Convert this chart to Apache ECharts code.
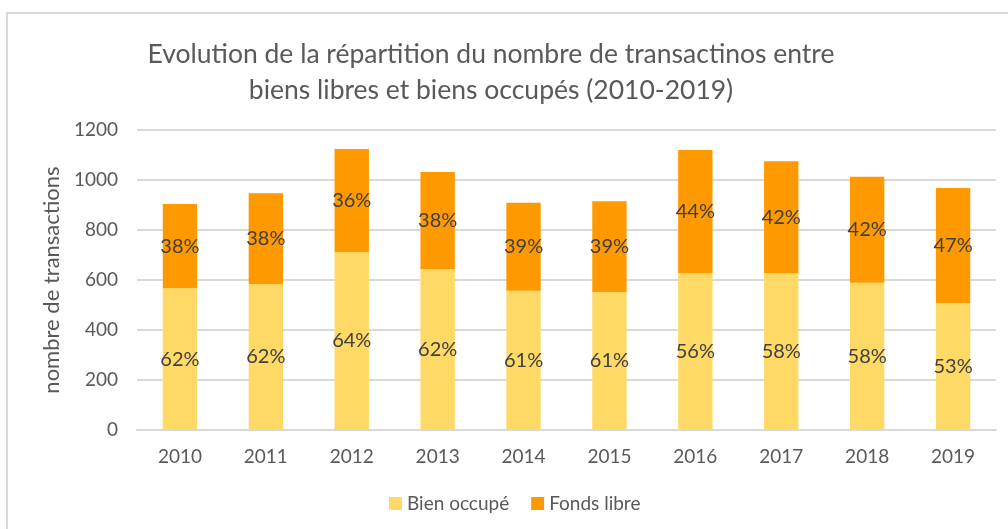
<!DOCTYPE html>
<html><head><meta charset="utf-8">
<script src="https://cdn.jsdelivr.net/npm/echarts@6/dist/echarts.min.js"></script>
<style>html,body{margin:0;padding:0;background:#fff}#c{width:1008px;height:529px}</style>
</head><body><div id="c"></div>
<script>
const years = ['2010','2011','2012','2013','2014','2015','2016','2017','2018','2019'];
const bienOccupe = [567, 584, 712, 644, 557, 552, 627, 627, 589, 508];
const fondsLibre = [337, 363, 412, 388, 352, 363, 493, 448, 424, 460];
const bienOccupePct = ['62%','62%','64%','62%','61%','61%','56%','58%','58%','53%'];
const fondsLibrePct = ['38%','38%','36%','38%','39%','39%','44%','42%','42%','47%'];
const yTicks = [0, 200, 400, 600, 800, 1000, 1200];

const FONT = 'Lato';
const chart = echarts.init(document.getElementById('c'), null, {renderer: 'canvas'});
chart.setOption({
  animation: false,
  textStyle: {fontFamily: FONT},
  graphic: [{
    type: 'rect', silent: true,
    shape: {x: 7, y: 13, width: 1100, height: 600},
    style: {fill: 'none', stroke: '#d9d9d9', lineWidth: 2}
  }],
  title: {
    text: 'Evolution de la répartition du nombre de transactinos entre\nbiens libres et biens occupés (2010-2019)',
    left: 486, top: 31, textAlign: 'center',
    textStyle: {fontFamily: FONT, fontSize: 26.5, fontWeight: 'normal', color: '#595959', lineHeight: 36}
  },
  legend: {
    bottom: 11, left: 384,
    itemWidth: 13, itemHeight: 13, itemGap: 22,
    icon: 'rect',
    textStyle: {fontFamily: FONT, fontSize: 19, color: '#595959'},
    data: ['Bien occupé', 'Fonds libre']
  },
  grid: {left: 137, right: 12, top: 130, bottom: 99},
  xAxis: {
    type: 'category', data: years,
    axisLine: {lineStyle: {color: '#d9d9d9', width: 2}},
    axisTick: {show: false},
    axisLabel: {fontFamily: FONT, fontSize: 19, color: '#595959', margin: 17}
  },
  yAxis: {
    type: 'value', min: 0, max: 1200, interval: 200,
    name: 'nombre de transactions', nameLocation: 'middle', nameGap: 72,
    nameTextStyle: {fontFamily: FONT, fontSize: 22, color: '#595959'},
    axisLine: {show: false}, axisTick: {show: false},
    splitLine: {lineStyle: {color: '#d9d9d9', width: 2}},
    axisLabel: {fontFamily: FONT, fontSize: 19, color: '#595959', margin: 19,
      formatter: v => yTicks.includes(v) ? String(v) : ''}
  },
  series: [{
    name: 'Bien occupé', type: 'bar', stack: 't', data: bienOccupe, barWidth: '40%',
    itemStyle: {color: '#FFD966'},
    label: {show: true, position: 'inside', fontFamily: FONT, fontSize: 20, color: '#404040',
      formatter: p => bienOccupePct[p.dataIndex]}
  }, {
    name: 'Fonds libre', type: 'bar', stack: 't', data: fondsLibre, barWidth: '40%',
    itemStyle: {color: '#FF9900'},
    label: {show: true, position: 'inside', fontFamily: FONT, fontSize: 20, color: '#404040',
      formatter: p => fondsLibrePct[p.dataIndex]}
  }]
});
</script></body></html>
